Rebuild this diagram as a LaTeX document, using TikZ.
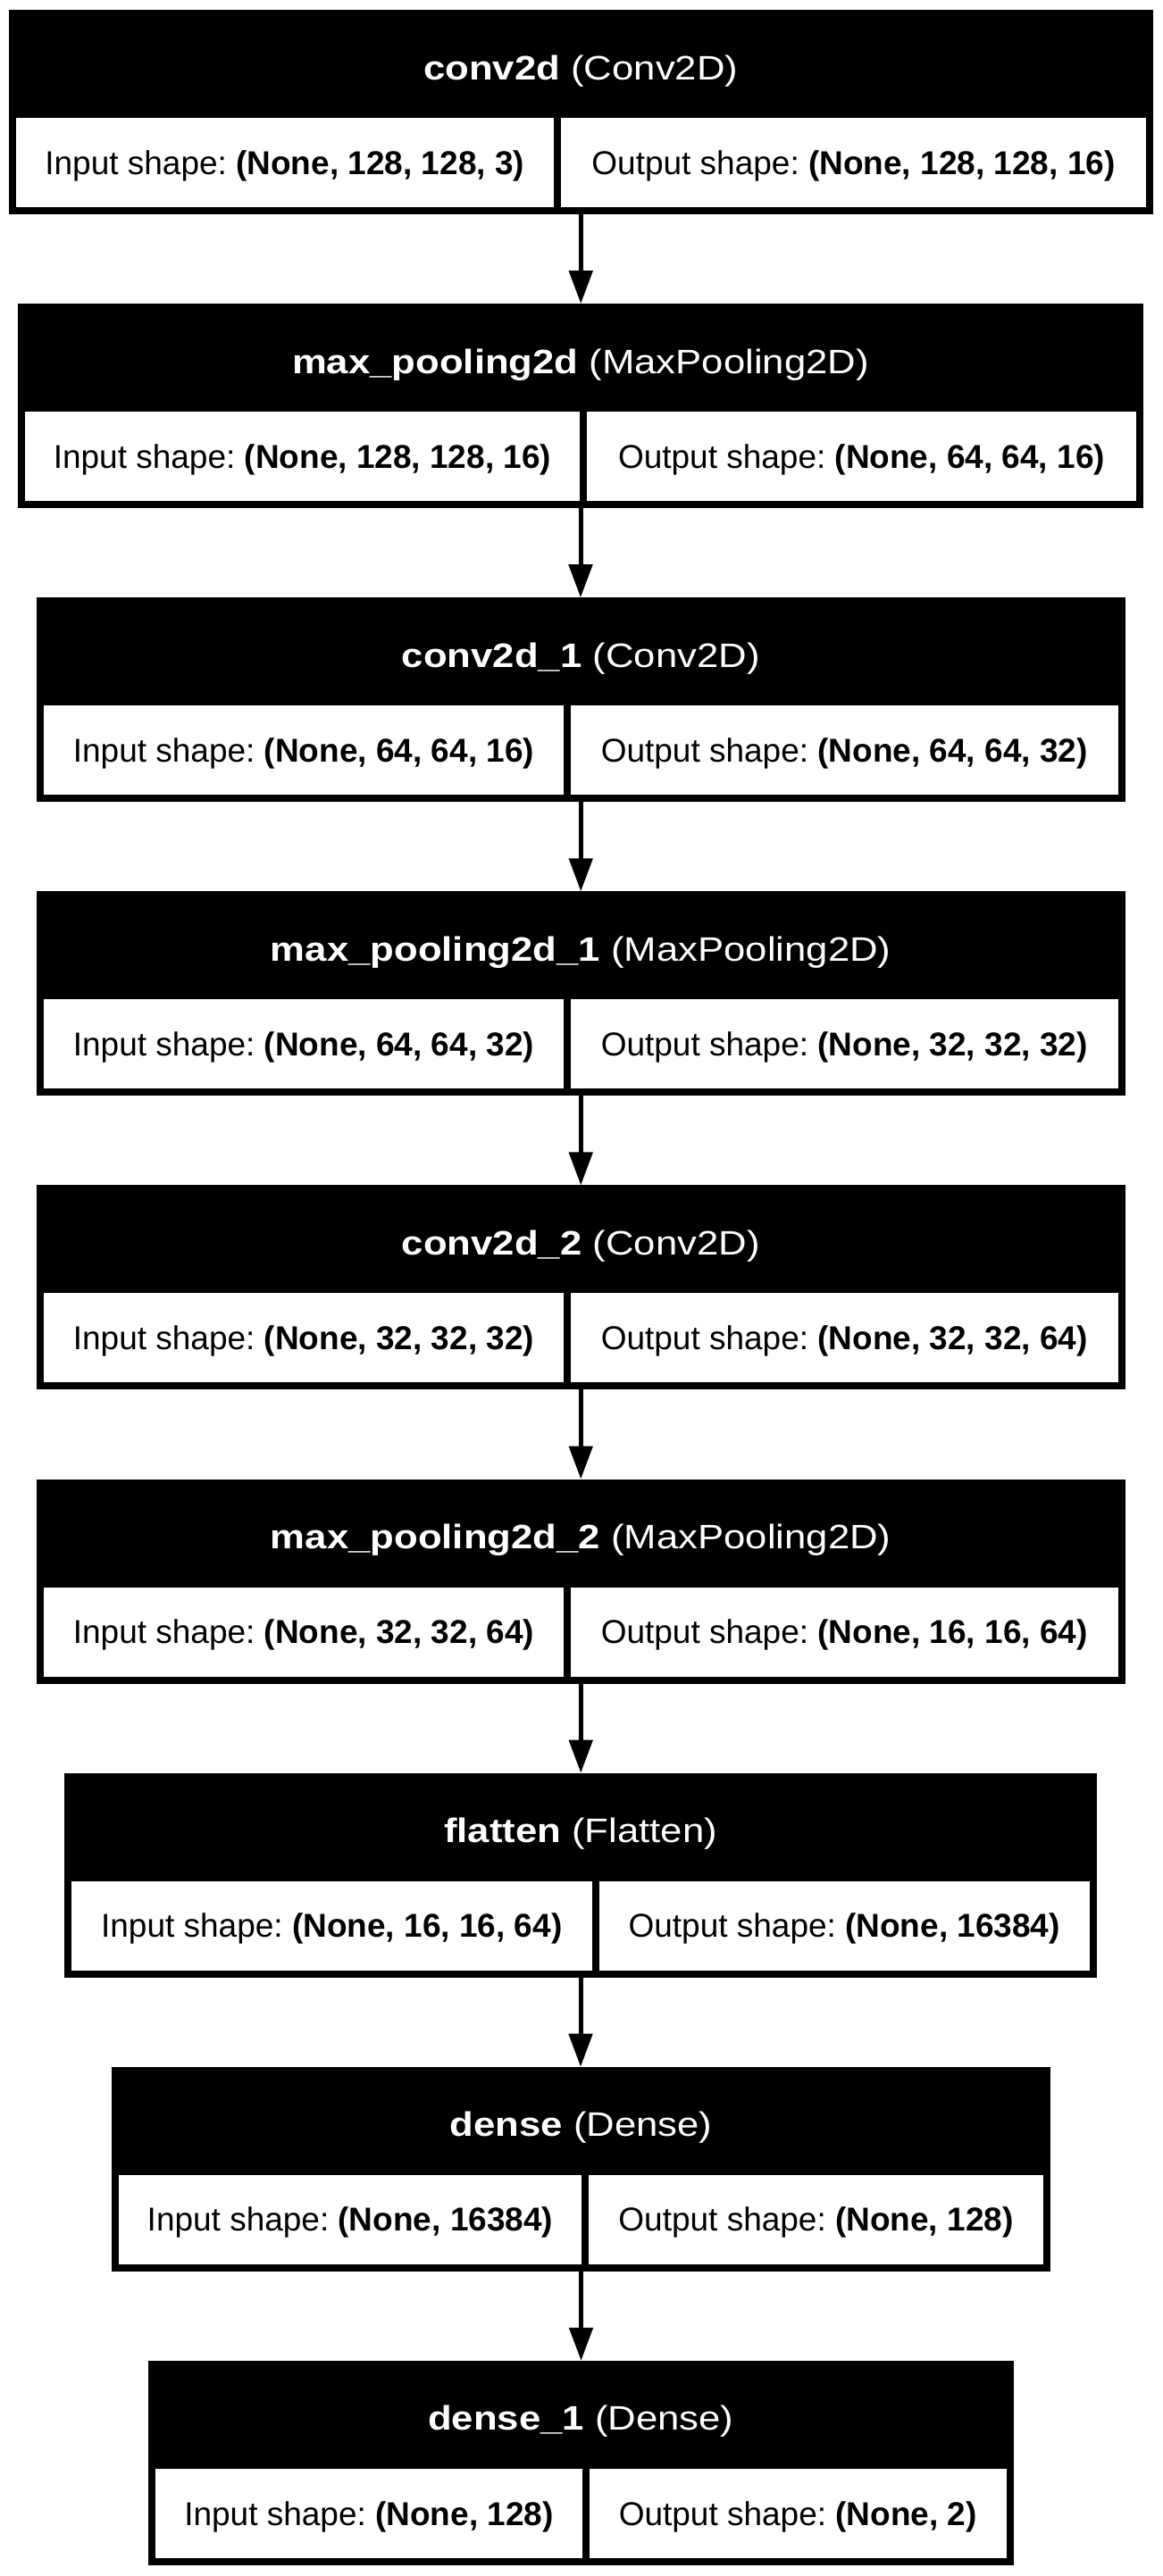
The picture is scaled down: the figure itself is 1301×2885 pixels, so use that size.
\documentclass[tikz,border=0pt]{standalone}
\usepackage{fontspec}
\setmainfont{Liberation Sans}
\newfontfamily\headfont[FakeStretch=1.15]{Liberation Sans}
\usetikzlibrary{arrows.meta}
\frenchspacing
\newcommand\kblock[9]{%
  \pgfmathsetmacro\kw{#4-#3}%
  \pgfmathsetmacro\kwl{#5-#3-8}%
  \pgfmathsetmacro\kwr{#4-#5-16}%
  \pgfmathsetmacro\khw{#4-#3-16}%
  \node[frame, minimum width=\kw pt, anchor=north west] (#1) at (#3,#2) {};
  \node[headtext, minimum width=\khw pt, anchor=north west] (#1h) at (#3+8,#2+8) {\textbf{#6} (#7)};
  \node[cell, minimum width=\kwl pt, anchor=north west] (#1i) at (#3+8,#2+121) {Input shape: \textbf{#8}};
  \node[cell, minimum width=\kwr pt, anchor=north west] (#1o) at (#5+8,#2+121) {Output shape: \textbf{#9}};
}
\tikzset{
  frame/.style={fill=black, draw=none, inner sep=0pt, outer sep=0pt, minimum height=229pt},
  headtext/.style={fill=black, text=white, inner sep=0pt, outer sep=0pt, minimum height=113pt,
    font=\headfont\fontsize{38}{46}\selectfont, text height=27.2pt, text depth=0pt},
  cell/.style={fill=white, text=black, inner sep=0pt, outer sep=0pt, minimum height=100pt, text height=26.5pt, text depth=0pt},
  conn/.style={line width=5pt, -{Triangle[length=37pt,width=26pt]}}
}
\begin{document}
\begin{tikzpicture}[x=1pt, y=-1pt, font=\fontsize{37}{44}\selectfont]
\useasboundingbox (0,0) rectangle (1301,2885);
\fill[white] (0,0) rectangle (1301,2885);
\kblock{b1}{11}{9.5}{1291}{620}{conv2d}{Conv2D}{(None, 128, 128, 3)}{(None, 128, 128, 16)}
\kblock{b2}{340.1}{20}{1280}{649}{max\_pooling2d}{MaxPooling2D}{(None, 128, 128, 16)}{(None, 64, 64, 16)}
\kblock{b3}{669.2}{41}{1259.5}{631}{conv2d\_1}{Conv2D}{(None, 64, 64, 16)}{(None, 64, 64, 32)}
\kblock{b4}{998.3}{41}{1259.5}{631}{max\_pooling2d\_1}{MaxPooling2D}{(None, 64, 64, 32)}{(None, 32, 32, 32)}
\kblock{b5}{1327.4}{41}{1259.5}{631}{conv2d\_2}{Conv2D}{(None, 32, 32, 32)}{(None, 32, 32, 64)}
\kblock{b6}{1656.5}{41}{1259.5}{631}{max\_pooling2d\_2}{MaxPooling2D}{(None, 32, 32, 64)}{(None, 16, 16, 64)}
\kblock{b7}{1985.6}{72}{1228}{662.5}{flatten}{Flatten}{(None, 16, 16, 64)}{(None, 16384)}
\kblock{b8}{2314.7}{125}{1176}{651}{dense}{Dense}{(None, 16384)}{(None, 128)}
\kblock{b9}{2643.8}{166}{1134.5}{652}{dense\_1}{Dense}{(None, 128)}{(None, 2)}
\foreach \a/\b in {b1/b2,b2/b3,b3/b4,b4/b5,b5/b6,b6/b7,b7/b8,b8/b9}
  \draw[conn] (\a.south) -- (\a.south |- \b.north);
\end{tikzpicture}
\end{document}
